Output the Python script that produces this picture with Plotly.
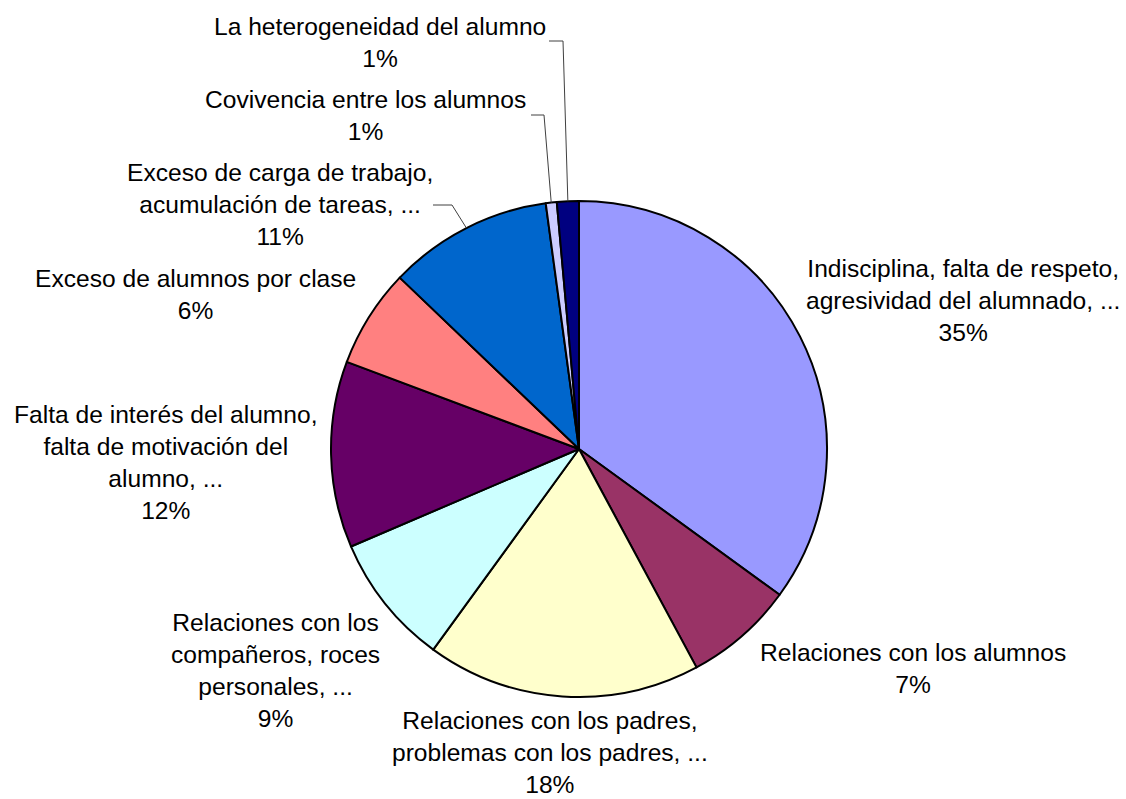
import math
import plotly.graph_objects as go

# ---- data ----
labels = [
    "Indisciplina, falta de respeto,<br>agresividad del alumnado, ...",
    "Relaciones con los alumnos",
    "Relaciones con los padres,<br>problemas con los padres, ...",
    "Relaciones con los<br>compañeros, roces<br>personales, ...",
    "Falta de interés del alumno,<br>falta de motivación del<br>alumno, ...",
    "Exceso de alumnos por clase",
    "Exceso de carga de trabajo,<br>acumulación de tareas, ...",
    "Covivencia entre los alumnos",
    "La heterogeneidad del alumno",
]
values = [49, 10, 25, 12, 17, 9, 15, 1, 2]
colors = ["#9999FF", "#993366", "#FFFFCC", "#CCFFFF", "#660066",
          "#FF8080", "#0066CC", "#CCCCFF", "#000080"]

# label block centres (pixels) and which labels get leader lines
label_pos = [(963, 300), (913, 668), (550, 752), (275, 670), (166, 462),
             (195, 294), (280, 205), (365, 115), (380, 42)]
leader = {6: (433, 452, 205), 7: (531, 544, 115), 8: (549, 563, 41)}

W, H = 1126, 799
CX, CY, R = 579, 449, 248

def px(x):
    return x / W

def py(y):
    return 1 - y / H

fig = go.Figure(go.Pie(
    labels=labels,
    values=values,
    sort=False,
    direction="clockwise",
    rotation=0,
    marker=dict(colors=colors, line=dict(color="black", width=2)),
    textinfo="none",
    hoverinfo="skip",
    domain=dict(x=[px(CX - R), px(CX + R)], y=[py(CY + R), py(CY - R)]),
))

total = sum(values)
cum = 0
annotations = []
shapes = []
for i, (lab, v) in enumerate(zip(labels, values)):
    mid = (cum + v / 2) / total
    cum += v
    pct = round(v / total * 100)
    lx, ly = label_pos[i]
    annotations.append(dict(
        x=px(lx), y=py(ly), xref="paper", yref="paper",
        text=f"{lab}<br>{pct}%", showarrow=False,
        xanchor="center", yanchor="middle", align="center", borderpad=0,
        font=dict(family="Liberation Sans, Arial", size=24.6, color="black"),
    ))
    if i in leader:
        ang = mid * 2 * math.pi
        ex = CX + R * math.sin(ang)
        ey = CY - R * math.cos(ang)
        x0, x1, yy = leader[i]
        path = (f"M {px(x0)},{py(yy)} L {px(x1)},{py(yy)} "
                f"L {px(ex)},{py(ey)}")
        shapes.append(dict(type="path", path=path, xref="paper", yref="paper",
                           line=dict(color="#404040", width=1)))

fig.update_layout(
    width=W, height=H,
    margin=dict(l=0, r=0, t=0, b=0),
    paper_bgcolor="white",
    plot_bgcolor="white",
    showlegend=False,
    annotations=annotations,
    shapes=shapes,
)

fig.write_html(
    "out.html",
    config={"displayModeBar": False},
    post_script="document.body.style.margin='0';document.body.style.overflow='hidden';",
)
